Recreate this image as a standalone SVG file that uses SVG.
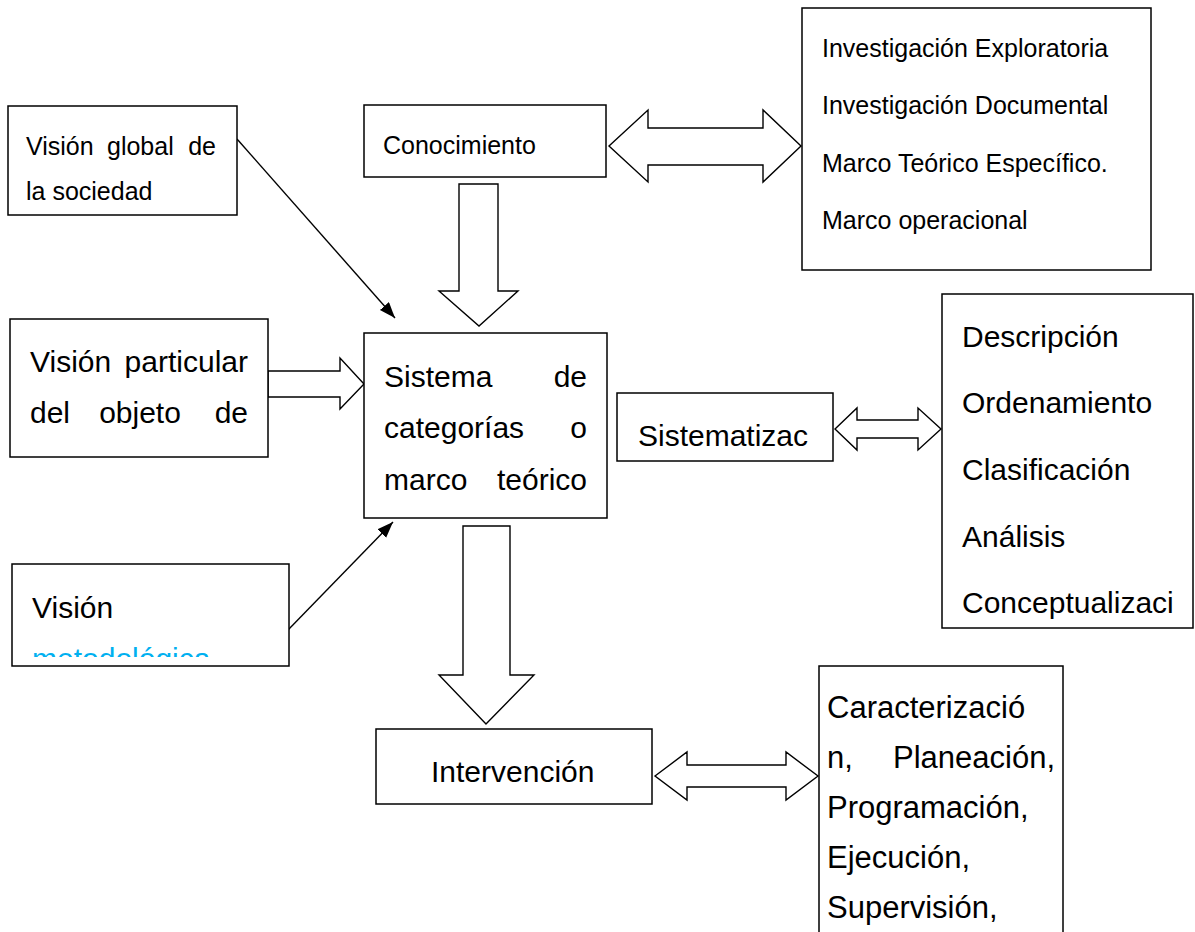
<svg xmlns="http://www.w3.org/2000/svg" width="1195" height="932" viewBox="0 0 1195 932">
<style>
.box{fill:#fff;stroke:#000;stroke-width:1.5}
.blk{fill:#fff;stroke:#000;stroke-width:1.4;stroke-linejoin:miter}
.ln{stroke:#000;stroke-width:1.4;fill:none}
text{font-family:"Liberation Sans",Arial,sans-serif;fill:#000}
.s{font-size:25px}
.m{font-size:30px}
.b{font-size:31px}
.cy{fill:#00B0F0}
</style>
<defs>
<marker id="ah" markerUnits="userSpaceOnUse" markerWidth="18" markerHeight="14" refX="16" refY="6" orient="auto">
<path d="M0,0 L16,6 L0,12 Z" fill="#000"/>
</marker>
<clipPath id="clipMet"><rect x="12" y="564" width="277" height="93"/></clipPath>
</defs>

<g id="connectors">
<line class="ln" x1="237" y1="139" x2="395" y2="318" marker-end="url(#ah)"/>
<line class="ln" x1="288" y1="630" x2="393" y2="522" marker-end="url(#ah)"/>
<polygon class="blk" points="459,184 498,184 498,291 518,291 479,326 439,291 459,291"/>
<polygon class="blk" points="463,526 510,526 510,675 534,675 486,724 439,675 463,675"/>
<polygon class="blk" points="268,371 340,371 340,358 364,384 340,409 340,397 268,397"/>
<polygon class="blk" points="609,146 648,110 648,128 763,128 763,110 801,146 763,182 763,165 648,165 648,182"/>
<polygon class="blk" points="835,429 857,408 857,420 918,420 918,408 941,429 918,450 918,438 857,438 857,450"/>
<polygon class="blk" points="655,776 687,752 687,765 786,765 786,752 818,776 786,800 786,787 687,787 687,800"/>
</g>

<g id="vision-global">
<rect class="box" x="8" y="106" width="229" height="109"/>
<text class="s" x="26" y="155">Visión</text>
<text class="s" x="107" y="155">global</text>
<text class="s" x="216" y="155" text-anchor="end">de</text>
<text class="s" x="26" y="200">la sociedad</text>
</g>

<g id="conocimiento">
<rect class="box" x="364" y="105" width="242" height="72"/>
<text class="s" x="383" y="154">Conocimiento</text>
</g>

<g id="investigacion">
<rect class="box" x="802" y="8" width="349" height="262"/>
<text class="s" x="822" y="57">Investigación Exploratoria</text>
<text class="s" x="822" y="114">Investigación Documental</text>
<text class="s" x="822" y="172">Marco Teórico Específico.</text>
<text class="s" x="822" y="229">Marco operacional</text>
</g>

<g id="vision-particular">
<rect class="box" x="10" y="319" width="258" height="138"/>
<text class="m" x="30" y="372">Visión</text>
<text class="m" x="248" y="372" text-anchor="end">particular</text>
<text class="m" x="30" y="423">del</text>
<text class="m" x="140" y="423" text-anchor="middle">objeto</text>
<text class="m" x="248" y="423" text-anchor="end">de</text>
</g>

<g id="sistema">
<rect class="box" x="364" y="333" width="243" height="185"/>
<text class="m" x="384" y="387">Sistema</text>
<text class="m" x="587" y="387" text-anchor="end">de</text>
<text class="m" x="384" y="438">categorías</text>
<text class="m" x="587" y="438" text-anchor="end">o</text>
<text class="m" x="384" y="490">marco</text>
<text class="m" x="587" y="490" text-anchor="end">teórico</text>
</g>

<g id="vision-metodologica">
<rect class="box" x="12" y="564" width="277" height="102"/>
<text class="m" x="32" y="618">Visión</text>
<g clip-path="url(#clipMet)"><text class="m cy" x="32" y="669">metodológica</text></g>
</g>

<g id="sistematizacion">
<rect class="box" x="617" y="393" width="216" height="68"/>
<text class="m" x="638" y="446">Sistematizac</text>
</g>

<g id="lista-sistematizacion">
<rect class="box" x="942" y="294" width="251" height="334"/>
<text class="m" x="962" y="347">Descripción</text>
<text class="m" x="962" y="413">Ordenamiento</text>
<text class="m" x="962" y="480">Clasificación</text>
<text class="m" x="962" y="547">Análisis</text>
<text class="m" x="962" y="613">Conceptualizaci</text>
</g>

<g id="intervencion">
<rect class="box" x="376" y="729" width="276" height="75"/>
<text class="m" x="431" y="782">Intervención</text>
</g>

<g id="lista-intervencion">
<rect class="box" x="819" y="666" width="244" height="280"/>
<text class="b" x="827" y="718">Caracterizació</text>
<text class="b" x="827" y="768">n,</text>
<text class="b" x="1055" y="768" text-anchor="end">Planeación,</text>
<text class="b" x="827" y="818">Programación,</text>
<text class="b" x="827" y="868">Ejecución,</text>
<text class="b" x="827" y="918">Supervisión,</text>
</g>
</svg>
